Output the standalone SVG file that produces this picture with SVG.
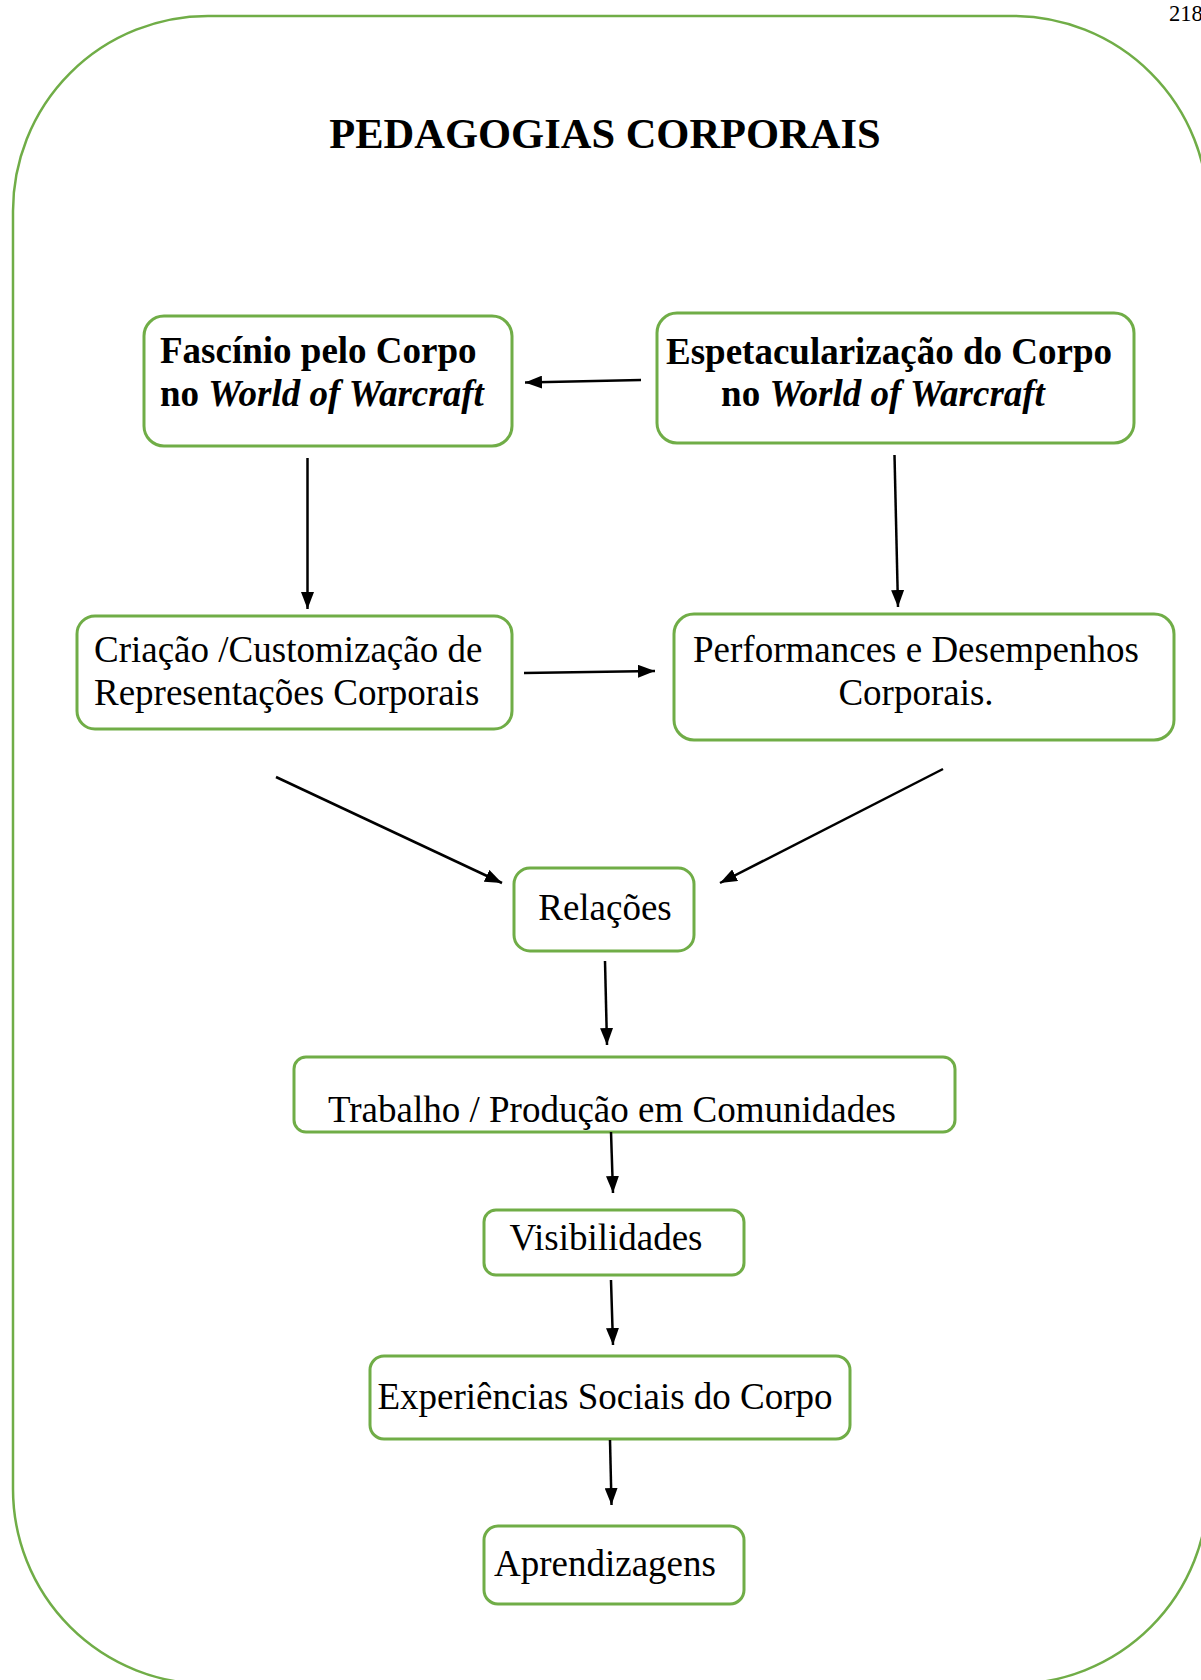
<svg xmlns="http://www.w3.org/2000/svg" width="1201" height="1680" viewBox="0 0 1201 1680">
<style>
.frame{fill:none;stroke:#70AD47;stroke-width:2.5}
.box{fill:#fff;stroke:#70AD47;stroke-width:3}
.t{font-family:"Liberation Serif","Times New Roman",serif;fill:#000}
.b{font-weight:bold}
.bi{font-weight:bold;font-style:italic}
.n{font-size:37px}
.c{text-anchor:middle}
.con line{stroke:#000;stroke-width:2.5;marker-end:url(#ah)}
</style>
<defs>
<marker id="ah" markerUnits="userSpaceOnUse" markerWidth="17" markerHeight="13" refX="17" refY="6.5" orient="auto">
<path d="M0,0 L17,6.5 L0,13 z" fill="#000"/>
</marker>
</defs>
<rect fill="#fff" x="0" y="0" width="1201" height="1680"/>
<text class="t" x="1169" y="21" font-size="22.5">218</text>
<rect class="frame" x="13" y="16" width="1195" height="1668" rx="195" ry="195"/>
<text class="t b c" x="605" y="148" font-size="42.5">PEDAGOGIAS CORPORAIS</text>

<g id="fascinio">
<rect class="box" x="144" y="316" width="368" height="130" rx="20"/>
<text class="t b n" x="160" y="363">Fascínio pelo Corpo</text>
<text class="t b n" x="160" y="406">no <tspan class="bi">World of Warcraft</tspan></text>
</g>
<g id="espetacularizacao">
<rect class="box" x="657" y="313" width="477" height="130" rx="20"/>
<text class="t b n c" x="889" y="364">Espetacularização do Corpo</text>
<text class="t b n c" x="883" y="406">no <tspan class="bi">World of Warcraft</tspan></text>
</g>
<g id="criacao">
<rect class="box" x="77" y="616" width="435" height="113" rx="18"/>
<text class="t n" x="94" y="662">Criação /Customização de</text>
<text class="t n" x="94" y="705">Representações Corporais</text>
</g>
<g id="performances">
<rect class="box" x="674" y="614" width="500" height="126" rx="20"/>
<text class="t n c" x="916" y="662">Performances e Desempenhos</text>
<text class="t n c" x="916" y="705">Corporais.</text>
</g>
<g id="relacoes">
<rect class="box" x="514" y="868" width="180" height="83" rx="16"/>
<text class="t n c" x="605" y="920">Relações</text>
</g>
<g id="trabalho">
<rect class="box" x="294" y="1057" width="661" height="75" rx="12"/>
<text class="t n" x="328" y="1122">Trabalho / Produção em Comunidades</text>
</g>
<g id="visibilidades">
<rect class="box" x="484" y="1210" width="260" height="65" rx="12"/>
<text class="t n c" x="606" y="1250">Visibilidades</text>
</g>
<g id="experiencias">
<rect class="box" x="370" y="1356" width="480" height="83" rx="14"/>
<text class="t n c" x="605" y="1409">Experiências Sociais do Corpo</text>
</g>
<g id="aprendizagens">
<rect class="box" x="484" y="1526" width="260" height="78" rx="14"/>
<text class="t n c" x="605" y="1576">Aprendizagens</text>
</g>

<g id="connectors" class="con">
<line x1="641" y1="380" x2="525" y2="382.5"/>
<line x1="307.5" y1="458" x2="307.5" y2="609"/>
<line x1="894.5" y1="455" x2="898" y2="607"/>
<line x1="524" y1="673" x2="655" y2="671"/>
<line x1="276" y1="777" x2="502" y2="883"/>
<line x1="943" y1="769" x2="720" y2="883"/>
<line x1="605" y1="961" x2="607" y2="1045"/>
<line x1="611" y1="1132" x2="613" y2="1193"/>
<line x1="611" y1="1280" x2="613" y2="1345"/>
<line x1="610" y1="1440" x2="611.5" y2="1505"/>
</g>
</svg>
